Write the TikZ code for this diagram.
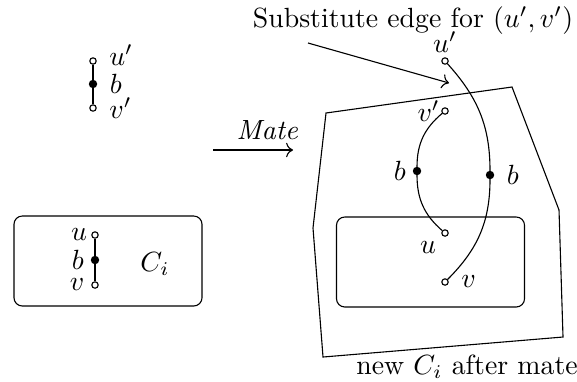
\documentclass[tikz,border=0pt]{standalone}
\usepackage{amsmath,amssymb}
\usepackage{tikz}
\usetikzlibrary{arrows.meta, positioning}

\begin{document}
\begin{tikzpicture}[
    x=0.36pt, y=-0.36pt,
    node distance=1pt,
    endv/.style={circle, draw=black, fill=white, inner sep=0pt, minimum size=2.3pt},
    bendv/.style={circle, draw=black, fill=black, inner sep=0pt, minimum size=2.6pt},
    cbox/.style={rectangle, rounded corners=3pt, draw=black, minimum width=67.7pt, minimum height=32.4pt},
    arrow/.style={-{To}}
]
\useasboundingbox (0,0) rectangle (577,381);

% the edge before mating
\node (u1) [endv] at (93,61) {};
\node (b1) [bendv] at (93,84) {};
\node (v1) [endv] at (93,108) {};
\node (lu1) [right=of u1, yshift=2pt] {$u'$};
\node (lb1) [right=of b1] {$b$};
\node (lv1) [right=of v1] {$v'$};
\draw (u1) -- (b1) -- (v1);

% the component C_i
\node (box1) [cbox] at (108,261) {};
\node (u2) [endv] at (95,235) {};
\node (b2) [bendv] at (95,260) {};
\node (v2) [endv] at (95,285) {};
\node (lu2) [left=of u2, xshift=3pt] {$u$};
\node (lb2) [left=of b2, xshift=2pt] {$b$};
\node (lv2) [left=of v2, xshift=2pt] {$v$};
\node (ci) at (155,264) {$C_i$};
\draw (u2) -- (b2) -- (v2);

% mate
\coordinate (ms) at (213,150);
\coordinate (me) at (293,150);
\draw [arrow] (ms) -- node[above, pos=0.68] (mate) {\emph{Mate}} (me);

% after mating
\node (box2) [cbox] at (430.5,262) {};
\draw (326,113) -- (512,87) -- (559,210) -- (563,337) -- (323,357) -- (313,228) -- cycle;

\node (u3) [endv] at (445,61) {};
\node (v3) [endv] at (445,111) {};
\node (b3) [bendv] at (417,171) {};
\node (b4) [bendv] at (490,175) {};
\node (u4) [endv] at (445,233) {};
\node (v4) [endv] at (445,282) {};
\node (lu3) [above=of u3, yshift=-3pt] {$u'$};
\node (lv3) [left=of v3, xshift=4pt] {$v'$};
\node (lb3) [left=of b3, xshift=2pt] {$b$};
\node (lb4) [right=of b4] {$b$};
\node (lu4) [below left=of u4, xshift=2pt, yshift=2pt] {$u$};
\node (lv4) [right=of v4] {$v$};

\draw (u3) to[out=-48, in=90] (b4) to[out=-90, in=45] (v4);
\draw (v3) to[out=-140, in=90] (b3) to[out=-90, in=139] (u4);

\node (subst) at (413,21) {Substitute edge for $(u',v')$};
\coordinate (ss) at (308,43);
\coordinate (se) at (449,83);
\draw [arrow] (ss) -- (se);

\node (newci) at (467,367) {new $C_i$ after mate};

\end{tikzpicture}
\end{document}
